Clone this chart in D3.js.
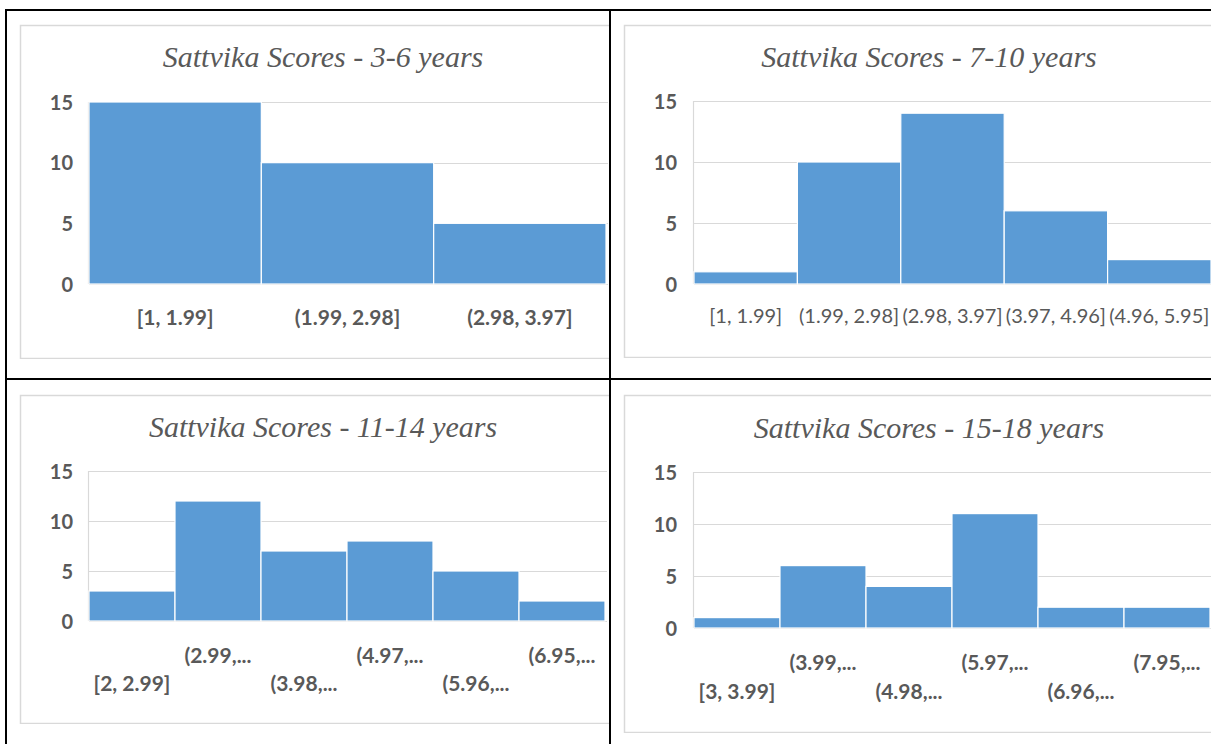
<!DOCTYPE html>
<html>
<head>
<meta charset="utf-8">
<script src="https://cdn.jsdelivr.net/npm/d3@7"></script>
<style>
  html, body { margin: 0; padding: 0; background: #fff; }
  svg { display: block; }
</style>
</head>
<body>
<svg id="page" width="1211" height="744"></svg>
<script>
// Sattvika score histograms by age group
const titles = [
  "Sattvika Scores - 3-6 years",
  "Sattvika Scores - 7-10 years",
  "Sattvika Scores - 11-14 years",
  "Sattvika Scores - 15-18 years"
];

const bins36 = ["[1, 1.99]", "(1.99, 2.98]", "(2.98, 3.97]"];
const counts36 = [15, 10, 5];

const bins710 = ["[1, 1.99]", "(1.99, 2.98]", "(2.98, 3.97]", "(3.97, 4.96]", "(4.96, 5.95]"];
const counts710 = [1, 10, 14, 6, 2];

const bins1114 = ["[2, 2.99]", "(2.99,...", "(3.98,...", "(4.97,...", "(5.96,...", "(6.95,..."];
const counts1114 = [3, 12, 7, 8, 5, 2];

const bins1518 = ["[3, 3.99]", "(3.99,...", "(4.98,...", "(5.97,...", "(6.96,...", "(7.95,..."];
const counts1518 = [1, 6, 4, 11, 2, 2];

const yTicks = [0, 5, 10, 15];

// Panel geometry (table cells and plot areas)
const panels = [
  { bins: bins36, counts: counts36, title: titles[0],
    box: [20, 25, 600, 333], clipRight: 609,
    plot: { x0: 89, x1: 606, yMax: 102, y0: 284 },
    titleY: 57, labelY: [317, 317], yLabelX: 73, boldX: true },
  { bins: bins710, counts: counts710, title: titles[1],
    box: [624, 25, 600, 332], clipRight: 1211,
    plot: { x0: 694, x1: 1211, yMax: 101, y0: 284 },
    titleY: 57, labelY: [316, 316], yLabelX: 677, boldX: false },
  { bins: bins1114, counts: counts1114, title: titles[2],
    box: [20, 395, 600, 328], clipRight: 609,
    plot: { x0: 89, x1: 605, yMax: 471, y0: 621 },
    titleY: 427, labelY: [683, 655], yLabelX: 73, boldX: true },
  { bins: bins1518, counts: counts1518, title: titles[3],
    box: [624, 395, 600, 337], clipRight: 1211,
    plot: { x0: 694, x1: 1210, yMax: 472, y0: 628 },
    titleY: 428, labelY: [691, 662], yLabelX: 677, boldX: true }
];

const svg = d3.select("#page");
const textColor = "#595959";
const gridColor = "#d9d9d9";
const barColor = "#5b9bd5";
const labelFont = "Lato, 'Open Sans', sans-serif";

panels.forEach((p, i) => {
  const [bx, by, bw, bh] = p.box;
  const clipId = "clip" + i;
  svg.append("clipPath").attr("id", clipId)
    .append("rect")
    .attr("x", bx - 1).attr("y", by - 1)
    .attr("width", p.clipRight - bx + 1).attr("height", bh + 2);

  const g = svg.append("g").attr("clip-path", `url(#${clipId})`);

  // chart frame
  g.append("rect")
    .attr("x", bx + 0.5).attr("y", by + 0.5)
    .attr("width", bw).attr("height", bh)
    .attr("fill", "#fff")
    .attr("stroke", gridColor).attr("stroke-width", 1.5);

  const x = d3.scaleBand().domain(p.bins).range([p.plot.x0, p.plot.x1]).padding(0);
  const y = d3.scaleLinear().domain([0, 15]).range([p.plot.y0, p.plot.yMax]);

  // horizontal gridlines
  g.append("g").selectAll("line")
    .data(yTicks)
    .join("line")
    .attr("x1", p.plot.x0).attr("x2", p.plot.x1 + 2)
    .attr("y1", d => Math.round(y(d)) + 0.5).attr("y2", d => Math.round(y(d)) + 0.5)
    .attr("stroke", gridColor).attr("stroke-width", 1.2);

  // left edge of plot
  g.append("line")
    .attr("x1", p.plot.x0 - 0.5).attr("x2", p.plot.x0 - 0.5)
    .attr("y1", y(15)).attr("y2", y(0))
    .attr("stroke", gridColor).attr("stroke-width", 1.2);

  // histogram bars
  g.append("g").selectAll("rect")
    .data(p.bins.map((b, k) => ({ bin: b, count: p.counts[k] })))
    .join("rect")
    .attr("x", d => x(d.bin))
    .attr("y", d => y(d.count))
    .attr("width", x.bandwidth())
    .attr("height", d => y(0) - y(d.count))
    .attr("fill", barColor)
    .attr("stroke", "#fff").attr("stroke-width", 1.2);

  // title
  g.append("text")
    .attr("x", bx + (i % 2 === 0 ? 303 : 305))
    .attr("y", p.titleY)
    .attr("dy", "0.32em")
    .attr("text-anchor", "middle")
    .attr("font-family", "'Liberation Serif', 'DejaVu Serif', serif")
    .attr("font-style", "italic")
    .attr("font-size", 30)
    .attr("fill", textColor)
    .text(p.title);

  // y axis labels
  const yAxis = d3.axisLeft(y).tickValues(yTicks).tickSize(0).tickPadding(0);
  const ya = g.append("g").attr("transform", `translate(${p.yLabelX},0)`).call(yAxis);
  ya.select(".domain").remove();
  ya.selectAll("text")
    .attr("font-family", labelFont)
    .attr("font-weight", 700)
    .attr("font-size", 20)
    .attr("fill", textColor)
    .attr("dy", "0.36em");

  // x axis category labels (staggered in two rows where crowded)
  const xAxis = d3.axisBottom(x).tickSize(0).tickPadding(0);
  const xa = g.append("g").attr("transform", "translate(0,0)").call(xAxis);
  xa.select(".domain").remove();
  xa.selectAll("text")
    .attr("font-family", labelFont)
    .attr("font-weight", p.boldX ? 700 : 400)
    .attr("font-size", p.boldX ? 21 : 20)
    .attr("fill", textColor)
    .attr("y", (d, k) => p.labelY[k % 2])
    .attr("dy", "0.36em");
});

// table ruling
const rule = svg.append("g").attr("stroke", "#000").attr("stroke-width", 2);
rule.append("line").attr("x1", 5).attr("x2", 1211).attr("y1", 10).attr("y2", 10);
rule.append("line").attr("x1", 5).attr("x2", 1211).attr("y1", 379).attr("y2", 379);
rule.append("line").attr("x1", 6).attr("x2", 6).attr("y1", 9).attr("y2", 744);
rule.append("line").attr("x1", 610).attr("x2", 610).attr("y1", 9).attr("y2", 744);
</script>
</body>
</html>
